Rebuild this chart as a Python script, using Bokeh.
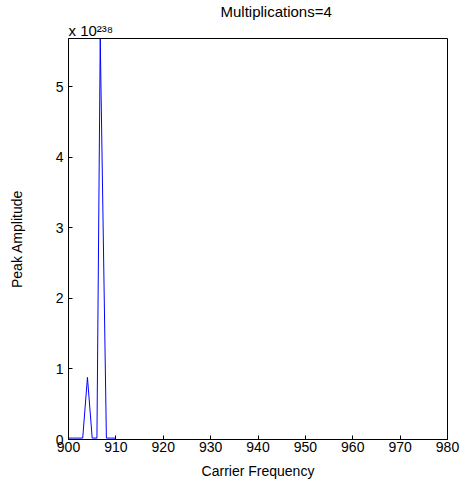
from bokeh.plotting import figure
from bokeh.models import Range1d, FixedTicker, Title
from bokeh.embed import file_html
from bokeh.resources import INLINE

# Data (amplitude in units of 1e238)
freq = [900, 901, 902, 903, 904, 905, 906, 906.7, 908, 909, 910]
amp = [0.02, 0.02, 0.02, 0.02, 0.88, 0.02, 0.02, 5.68, 0.02, 0.02, 0.02]
x_ticks = [900, 910, 920, 930, 940, 950, 960, 970, 980]
y_ticks = [0, 1, 2, 3, 4, 5]
title_text = "Multiplications=4"
exp_text = "x 10\u00b2\u00b3\u2078"
x_label = "Carrier Frequency"
y_label = "Peak Amplitude"

FONT = "Liberation Sans"

p = figure(width=461, height=481, output_backend="svg", toolbar_location=None,
           x_range=Range1d(900, 980), y_range=Range1d(0, 5.68),
           min_border_left=68, min_border_right=14, min_border_top=36, min_border_bottom=41)

p.title.text = title_text
p.title.align = "left"
p.title.text_font = FONT
p.title.text_font_size = "15px"
p.title.text_font_style = "normal"
p.title.text_color = "#000000"
p.title.offset = 152
p.title.standoff = 0

p.add_layout(Title(text=exp_text, align="left", text_font=FONT, text_font_size="15px",
                   text_font_style="normal", text_color="#000000", standoff=0), "above")

p.line(freq, amp, line_color="#0000ff", line_width=1)

p.grid.visible = False
p.outline_line_color = "#000000"
p.outline_line_width = 1
p.background_fill_color = "white"
p.border_fill_color = "white"

for ax in (p.xaxis[0], p.yaxis[0]):
    ax.major_tick_in = 4
    ax.major_tick_out = 0
    ax.minor_tick_in = 0
    ax.minor_tick_out = 0
    ax.axis_line_color = "#000000"
    ax.major_tick_line_color = "#000000"
    ax.major_label_text_font = FONT
    ax.major_label_text_font_size = "14px"
    ax.major_label_text_color = "#000000"
    ax.axis_label_text_font = FONT
    ax.axis_label_text_font_size = "14px"
    ax.axis_label_text_font_style = "normal"
    ax.axis_label_text_color = "#000000"

p.xaxis.ticker = FixedTicker(ticks=x_ticks)
p.yaxis.ticker = FixedTicker(ticks=y_ticks)
p.xaxis.axis_label = x_label
p.yaxis.axis_label = y_label
p.yaxis.axis_label_text_align = "right"
p.xaxis.major_label_standoff = 2
p.yaxis.major_label_standoff = 5
p.xaxis.axis_label_standoff = 8
p.yaxis.axis_label_standoff = 28

open("out.html", "w").write(file_html(p, INLINE))
